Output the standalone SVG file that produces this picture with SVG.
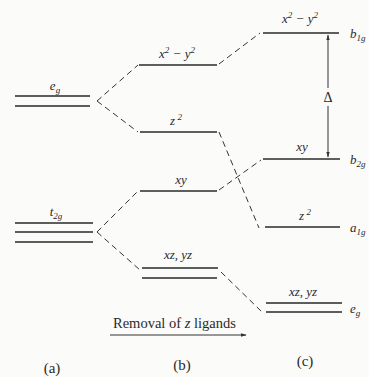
<svg xmlns="http://www.w3.org/2000/svg" width="369" height="377" viewBox="0 0 369 377">
<defs>
<style>
.lv{stroke:#2a2a2a;stroke-width:1.6;fill:none}
.ds{stroke:#333;stroke-width:1;stroke-dasharray:6,4;fill:none}
.ar{stroke:#333;stroke-width:1;fill:none}
text{font-family:"Liberation Serif",serif;fill:#2a2a2a}
.it{font-style:italic;font-size:13px;text-anchor:middle}
.rt{font-style:italic;font-size:13px}
.lb{font-size:14.5px}
.cp{font-size:15px;text-anchor:middle}
</style>
<marker id="ah" viewBox="0 0 10 10" refX="9" refY="5" markerWidth="6" markerHeight="6" orient="auto-start-reverse">
<path d="M0,2 L10,5 L0,8 Z" fill="#333"/>
</marker>
</defs>
<rect width="369" height="377" fill="#fbfbfa"/>
<g id="connectors">
<path class="ds" d="M97,101 L138,65"/>
<path class="ds" d="M97,101 L138,132"/>
<path class="ds" d="M97,232 L138,191"/>
<path class="ds" d="M97,232 L140,270"/>
<path class="ds" d="M219,64 L260,33"/>
<path class="ds" d="M219,132 L259,228"/>
<path class="ds" d="M219,190 L261,160"/>
<path class="ds" d="M221,272 L262,312"/>
<path class="ar" d="M328,35 L328,88 M328,106 L328,157" marker-start="url(#ah)" marker-end="url(#ah)"/>
<path class="ar" d="M110,335 L246,335" marker-end="url(#ah)"/>
</g>
<g id="a-eg">
<path class="lv" d="M15,96 H90 M15,106 H90"/>
<text class="it" x="55" y="90">e<tspan font-size="9" dy="3">g</tspan></text>
</g>
<g id="a-t2g">
<path class="lv" d="M15,223 H93 M15,232 H93 M15,242 H93"/>
<text class="it" x="56" y="216">t<tspan font-size="9" dy="3">2g</tspan></text>
</g>
<g id="b-x2y2">
<path class="lv" d="M139,65 H217"/>
<text class="it" x="177" y="58">x<tspan font-size="9" dy="-5">2</tspan><tspan dy="5"> − y</tspan><tspan font-size="9" dy="-5">2</tspan></text>
</g>
<g id="b-z2">
<path class="lv" d="M140,132 H217"/>
<text class="it" x="176" y="125">z<tspan font-size="9" dy="-5"> 2</tspan></text>
</g>
<g id="b-xy">
<path class="lv" d="M140,191 H217"/>
<text class="it" x="181" y="184">xy</text>
</g>
<g id="b-xzyz">
<path class="lv" d="M142,268 H218 M142,278 H217"/>
<text class="it" x="178" y="259">xz, yz</text>
</g>
<g id="c-x2y2">
<path class="lv" d="M263,33 H339"/>
<text class="it" x="300" y="23">x<tspan font-size="9" dy="-5">2</tspan><tspan dy="5"> − y</tspan><tspan font-size="9" dy="-5">2</tspan></text>
<text class="rt" x="350" y="38">b<tspan font-size="9" dy="3">1g</tspan></text>
</g>
<g id="c-xy">
<path class="lv" d="M263,159 H340"/>
<text class="it" x="302" y="151">xy</text>
<text class="rt" x="350" y="164">b<tspan font-size="9" dy="3">2g</tspan></text>
</g>
<g id="c-z2">
<path class="lv" d="M265,227 H340"/>
<text class="it" x="305" y="220">z<tspan font-size="9" dy="-5"> 2</tspan></text>
<text class="rt" x="350" y="232">a<tspan font-size="9" dy="3">1g</tspan></text>
</g>
<g id="c-xzyz">
<path class="lv" d="M266,303 H342 M266,312 H342"/>
<text class="it" x="303" y="296">xz, yz</text>
<text class="rt" x="350" y="313">e<tspan font-size="9" dy="3">g</tspan></text>
</g>
<g id="delta">
<text x="328" y="102" font-size="14" text-anchor="middle">Δ</text>
</g>
<g id="labels">
<text class="lb" x="113" y="328">Removal of <tspan font-style="italic">z</tspan> ligands</text>
<text class="cp" x="52" y="373">(a)</text>
<text class="cp" x="182" y="370">(b)</text>
<text class="cp" x="305" y="366">(c)</text>
</g>
</svg>
